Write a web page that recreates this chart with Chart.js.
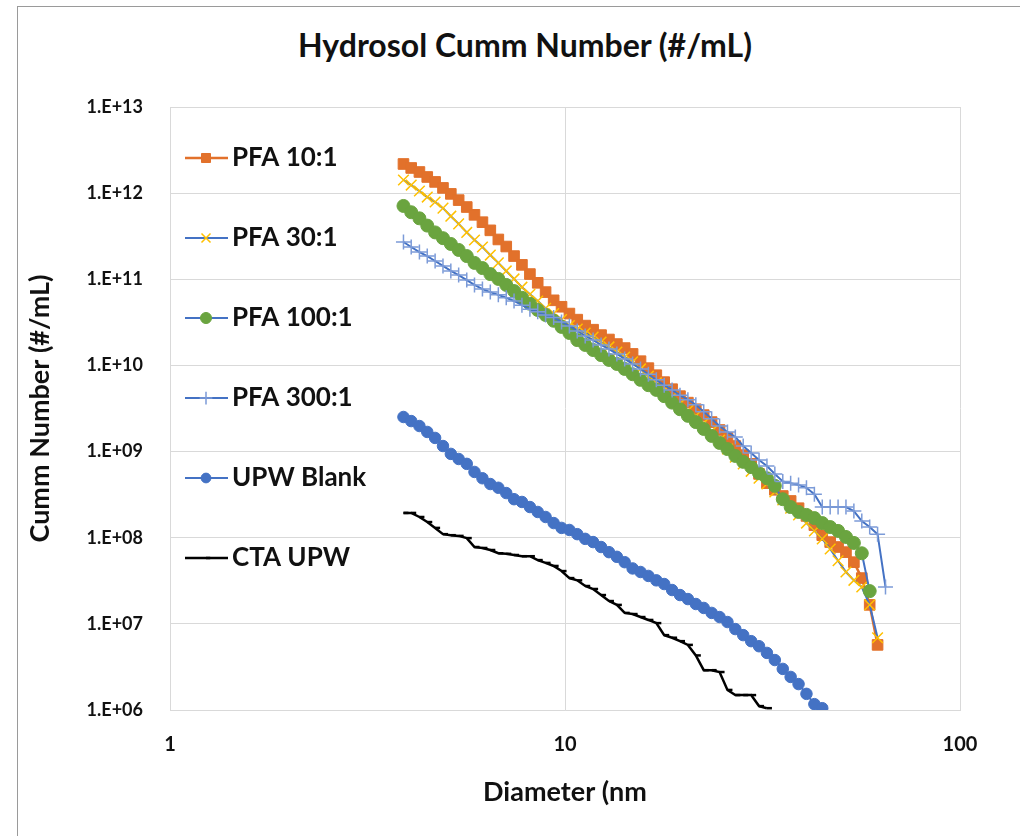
<!DOCTYPE html>
<html>
<head>
<meta charset="utf-8">
<title>Hydrosol Cumm Number</title>
<script src="https://cdn.jsdelivr.net/npm/chart.js@4.4.1/dist/chart.umd.min.js"></script>
<style>
  html, body { margin: 0; padding: 0; background: #fff; overflow: hidden; }
  #frame { position: absolute; left: 17px; top: 6px; width: 1100px; height: 1000px; border: 1px solid #9a9a9a; box-sizing: border-box; }
  #title { position: absolute; left: 30px; width: 990px; top: 29px; text-align: center; font: bold 32px Lato, sans-serif; line-height: 32px; color: #111; }
  canvas { position: absolute; left: 0; top: 0; }
</style>
</head>
<body>
<div id="frame"></div>
<div id="title">Hydrosol Cumm Number (#/mL)</div>
<canvas id="sizeChart" width="1020" height="836"></canvas>
<script>
// particle diameter bins (nm)
const diameters = [3.90, 4.08, 4.28, 4.48, 4.69, 4.91, 5.14, 5.38, 5.64, 5.90,
  6.18, 6.47, 6.78, 7.10, 7.43, 7.78, 8.15, 8.53, 8.93, 9.36,
  9.80, 10.26, 10.74, 11.25, 11.78, 12.34, 12.92, 13.53, 14.16, 14.83,
  15.53, 16.26, 17.03, 17.83, 18.67, 19.55, 20.47, 21.44, 22.45, 23.51,
  24.62, 25.78, 26.99, 28.26, 29.60, 30.99, 32.45, 33.98, 35.59, 37.26,
  39.02, 40.86, 42.79, 44.80, 46.92, 49.13, 51.44, 53.87, 56.41, 59.07,
  61.85, 64.77];

// cumulative number (#/mL) per bin, one list per sample
const pfa10 = [2.18e12, 1.96e12, 1.76e12, 1.54e12, 1.35e12, 1.15e12, 9.8e11, 8.3e11, 6.9e11, 5.6e11,
  4.6e11, 3.7e11, 2.9e11, 2.4e11, 1.86e11, 1.47e11, 1.15e11, 9.1e10, 7.1e10, 5.7e10,
  4.8e10, 4.0e10, 3.4e10, 2.9e10, 2.6e10, 2.25e10, 2.0e10, 1.77e10, 1.59e10, 1.36e10,
  1.12e10, 9.3e9, 7.7e9, 6.4e9, 5.3e9, 4.4e9, 3.7e9, 3.1e9, 2.65e9, 2.2e9,
  1.78e9, 1.44e9, 1.16e9, 9.1e8, 7.2e8, 5.5e8, 4.3e8, 3.6e8, 3.05e8, 2.67e8,
  2.2e8, 1.79e8, 1.40e8, 1.07e8, 8.9e7, 7.8e7, 6.8e7, 5.2e7, 3.4e7, 1.66e7,
  5.7e6];
const pfa30 = [1.42e12, 1.24e12, 1.06e12, 9.0e11, 7.9e11, 6.7e11, 5.4e11, 4.4e11, 3.5e11, 2.86e11,
  2.37e11, 1.91e11, 1.55e11, 1.25e11, 1.01e11, 8.1e10, 6.7e10, 5.6e10, 4.6e10, 4.0e10,
  3.4e10, 2.9e10, 2.65e10, 2.38e10, 2.14e10, 1.87e10, 1.64e10, 1.43e10, 1.25e10, 1.10e10,
  9.1e9, 7.5e9, 6.3e9, 5.2e9, 4.3e9, 3.6e9, 3.0e9, 2.6e9, 2.15e9, 1.73e9,
  1.36e9, 1.07e9, 8.6e8, 7.2e8, 5.9e8, 4.9e8, 4.2e8, 3.4e8, 2.74e8, 2.2e8,
  1.84e8, 1.48e8, 1.20e8, 9.7e7, 7.4e7, 5.4e7, 4.0e7, 3.2e7, 2.68e7, 1.66e7,
  6.9e6];
const pfa100 = [7.1e11, 6.0e11, 5.1e11, 4.2e11, 3.5e11, 3.0e11, 2.57e11, 2.19e11, 1.86e11, 1.55e11,
  1.35e11, 1.15e11, 1.01e11, 8.6e10, 7.3e10, 6.1e10, 5.2e10, 4.4e10, 3.85e10, 3.3e10,
  2.8e10, 2.38e10, 1.97e10, 1.73e10, 1.51e10, 1.32e10, 1.16e10, 1.04e10, 9.1e9, 7.9e9,
  6.8e9, 5.9e9, 5.2e9, 4.4e9, 3.7e9, 3.1e9, 2.6e9, 2.2e9, 1.83e9, 1.52e9,
  1.26e9, 1.07e9, 8.9e8, 7.6e8, 6.6e8, 5.6e8, 4.9e8, 4.0e8, 2.8e8, 2.27e8,
  1.99e8, 1.84e8, 1.69e8, 1.48e8, 1.33e8, 1.20e8, 1.02e8, 8.7e7, 6.6e7, 2.4e7];
const pfa300 = [2.71e11, 2.37e11, 2.07e11, 1.86e11, 1.63e11, 1.43e11, 1.25e11, 1.12e11, 9.8e10, 8.6e10,
  7.7e10, 7.1e10, 6.6e10, 6.1e10, 5.6e10, 5.0e10, 4.5e10, 4.2e10, 3.85e10, 3.6e10,
  3.2e10, 2.87e10, 2.51e10, 2.2e10, 1.97e10, 1.73e10, 1.55e10, 1.36e10, 1.19e10, 1.04e10,
  9.1e9, 7.9e9, 6.8e9, 5.9e9, 5.2e9, 4.5e9, 4.0e9, 3.5e9, 2.9e9, 2.4e9,
  1.98e9, 1.69e9, 1.48e9, 1.16e9, 9.6e8, 8.0e8, 6.8e8, 5.5e8, 4.5e8, 4.3e8,
  4.1e8, 3.8e8, 3.2e8, 2.27e8, 2.27e8, 2.27e8, 2.27e8, 2.04e8, 1.56e8, 1.33e8,
  1.10e8, 2.68e7];
const upwBlank = [2.52e9, 2.26e9, 1.98e9, 1.69e9, 1.44e9, 1.16e9, 9.4e8, 8.2e8, 7.2e8, 5.8e8,
  4.9e8, 4.2e8, 3.8e8, 3.3e8, 2.8e8, 2.6e8, 2.27e8, 1.99e8, 1.74e8, 1.48e8,
  1.30e8, 1.23e8, 1.10e8, 9.7e7, 8.9e7, 7.8e7, 6.8e7, 6.0e7, 5.2e7, 4.4e7,
  4.0e7, 3.6e7, 3.2e7, 2.9e7, 2.47e7, 2.16e7, 1.94e7, 1.70e7, 1.53e7, 1.34e7,
  1.20e7, 1.05e7, 8.7e6, 7.4e6, 6.3e6, 5.5e6, 4.6e6, 3.8e6, 3.0e6, 2.42e6,
  2.0e6, 1.54e6, 1.17e6, 1.05e6];
const ctaUpw = [1.94e8, 1.94e8, 1.74e8, 1.52e8, 1.30e8, 1.10e8, 1.07e8, 1.05e8, 9.9e7, 7.8e7,
  7.6e7, 7.2e7, 6.6e7, 6.5e7, 6.3e7, 6.1e7, 6.1e7, 5.5e7, 5.1e7, 4.7e7,
  4.1e7, 3.4e7, 3.2e7, 2.75e7, 2.54e7, 2.16e7, 1.84e7, 1.66e7, 1.34e7, 1.30e7,
  1.20e7, 1.11e7, 1.02e7, 7.4e6, 6.9e6, 6.3e6, 5.7e6, 4.3e6, 2.9e6, 2.9e6,
  2.76e6, 1.71e6, 1.49e6, 1.49e6, 1.49e6, 1.11e6, 1.05e6];

const seriesNames = ['PFA 10:1', 'PFA 30:1', 'PFA 100:1', 'PFA 300:1', 'UPW Blank', 'CTA UPW'];

const xTicks = [1, 10, 100];
const xTickLabels = ['1', '10', '100'];
const yTicks = [1e6, 1e7, 1e8, 1e9, 1e10, 1e11, 1e12, 1e13];
const yTickLabels = ['1.E+06', '1.E+07', '1.E+08', '1.E+09', '1.E+10', '1.E+11', '1.E+12', '1.E+13'];

Chart.defaults.font.family = 'Lato, sans-serif';

function toPoints(values) {
    return values.map((v, i) => ({ x: diameters[i], y: v }));
}

const blue = '#4472C4';
const boldFont = (size) => ({ family: 'Lato, sans-serif', weight: 'bold', size: size });

// series are stacked so the later ones sit on top (lower order draws last)
const datasets = [
    { label: seriesNames[0], data: toPoints(pfa10), borderColor: '#E2712B', borderWidth: 2.5,
      pointStyle: 'rect', pointRadius: 7.5, pointBackgroundColor: '#E2712B', pointBorderColor: '#E2712B', pointBorderWidth: 1, order: 6 },
    { label: seriesNames[1], data: toPoints(pfa30), borderColor: blue, borderWidth: 2,
      pointStyle: 'crossRot', pointRadius: 7.5, pointBackgroundColor: '#FFC000', pointBorderColor: '#FFC000', pointBorderWidth: 1.5, order: 5 },
    { label: seriesNames[2], data: toPoints(pfa100), borderColor: blue, borderWidth: 2,
      pointStyle: 'circle', pointRadius: 6.5, pointBackgroundColor: '#6AA43F', pointBorderColor: '#6AA43F', pointBorderWidth: 1, order: 4 },
    { label: seriesNames[3], data: toPoints(pfa300), borderColor: blue, borderWidth: 2,
      pointStyle: 'cross', pointRadius: 7.5, pointBackgroundColor: '#7C9BD8', pointBorderColor: '#7C9BD8', pointBorderWidth: 1.5, order: 3 },
    { label: seriesNames[4], data: toPoints(upwBlank), borderColor: blue, borderWidth: 2,
      pointStyle: 'circle', pointRadius: 5.75, pointBackgroundColor: blue, pointBorderColor: blue, pointBorderWidth: 1, order: 2 },
    { label: seriesNames[5], data: toPoints(ctaUpw), borderColor: '#000000', borderWidth: 2.5,
      pointStyle: 'dash', pointRadius: 5, pointBackgroundColor: '#000000', pointBorderColor: '#000000', pointBorderWidth: 2.5, order: 1 }
];

// legend drawn inside the plot area, one row every 80px
const sideLegend = {
    id: 'sideLegend',
    afterDatasetsDraw(chart) {
        const ctx = chart.ctx;
        ctx.save();
        chart.data.datasets.forEach((ds, i) => {
            const y = 158 + i * 80;
            ctx.strokeStyle = ds.borderColor;
            ctx.lineWidth = ds.borderWidth;
            ctx.beginPath();
            ctx.moveTo(185, y);
            ctx.lineTo(228, y);
            ctx.stroke();
            ctx.fillStyle = ds.pointBackgroundColor;
            ctx.strokeStyle = ds.pointBorderColor;
            ctx.lineWidth = ds.pointBorderWidth;
            Chart.helpers.drawPoint(ctx, {
                pointStyle: ds.pointStyle, radius: ds.pointRadius * 0.85, rotation: 0, borderWidth: ds.pointBorderWidth
            }, 206, y);
            ctx.fillStyle = '#111';
            ctx.font = 'bold 26px Lato, sans-serif';
            ctx.textAlign = 'left';
            ctx.textBaseline = 'middle';
            ctx.fillText(ds.label, 232, y);
        });
        ctx.restore();
    }
};

const ctx = document.getElementById('sizeChart').getContext('2d');
const sizeChart = new Chart(ctx, {
    type: 'line',
    data: { datasets: datasets },
    plugins: [sideLegend],
    options: {
        responsive: false,
        animation: false,
        devicePixelRatio: 1,
        layout: { padding: { top: 107, right: 60, bottom: 0, left: 0 } },
        elements: { line: { tension: 0 } },
        plugins: {
            legend: { display: false },
            tooltip: { enabled: false }
        },
        scales: {
            x: {
                type: 'logarithmic',
                min: 1,
                max: 100,
                afterBuildTicks: (scale) => { scale.ticks = xTicks.map(v => ({ value: v })); },
                afterFit: (scale) => { scale.height = 126; },
                grid: { color: '#d9d9d9', drawTicks: false },
                border: { color: '#d9d9d9' },
                ticks: {
                    padding: 23,
                    color: '#111',
                    font: boldFont(20),
                    autoSkip: false,
                    maxRotation: 0,
                    callback: (value, index) => xTickLabels[index]
                },
                title: {
                    display: true,
                    text: 'Diameter (nm',
                    color: '#111',
                    font: boldFont(27),
                    padding: { top: 0, bottom: 28 }
                }
            },
            y: {
                type: 'logarithmic',
                min: 1e6,
                max: 1e13,
                afterBuildTicks: (scale) => { scale.ticks = yTicks.map(v => ({ value: v })); },
                afterFit: (scale) => { scale.width = 170; },
                grid: { color: '#d9d9d9', drawTicks: false },
                border: { color: '#d9d9d9' },
                ticks: {
                    padding: 27,
                    color: '#111',
                    font: boldFont(18),
                    autoSkip: false,
                    callback: (value, index) => yTickLabels[index]
                },
                title: {
                    display: true,
                    text: 'Cumm Number (#/mL)',
                    color: '#111',
                    font: boldFont(27),
                    padding: { top: 24, bottom: 0 }
                }
            }
        }
    }
});
</script>
</body>
</html>
